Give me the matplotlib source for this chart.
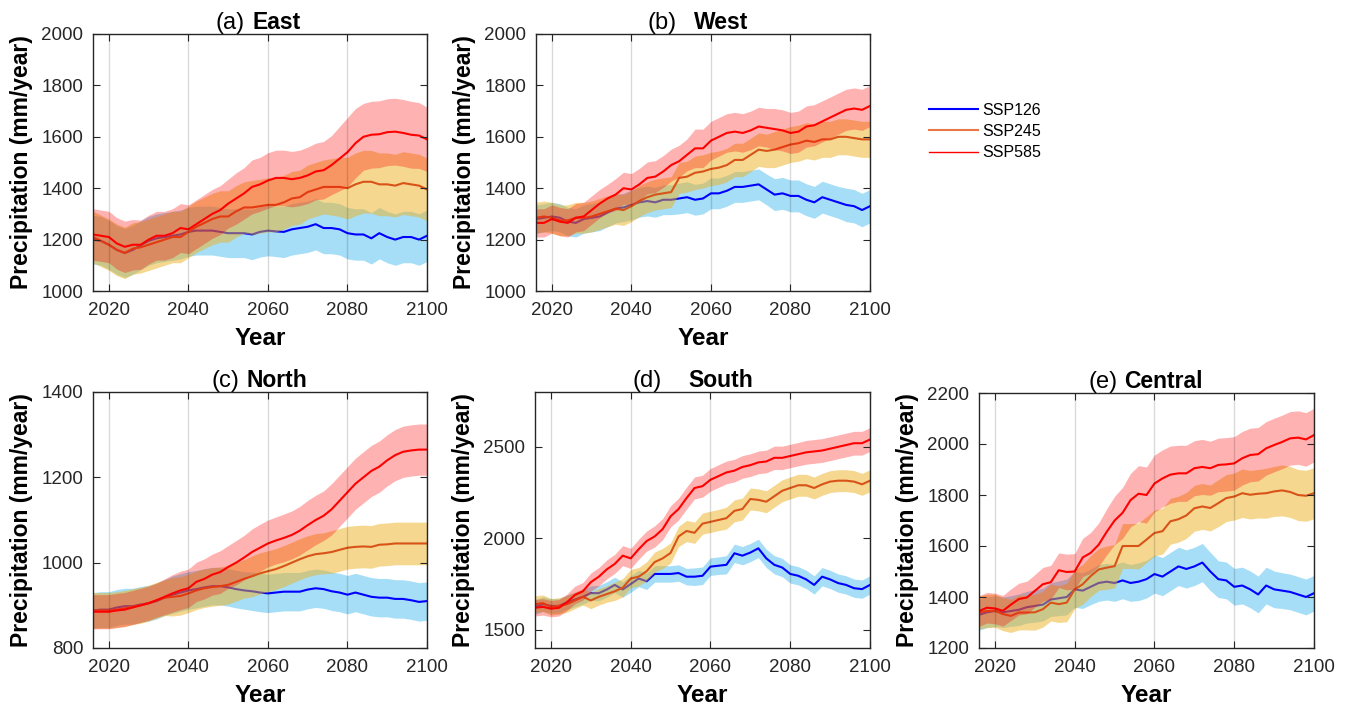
import numpy as np
import matplotlib
matplotlib.use('Agg')
import matplotlib.pyplot as plt

plt.rcParams.update({'font.family': ['Liberation Sans', 'DejaVu Sans'], 'font.size': 13.5})

years = np.arange(2016, 2101, 2)
scenarios = ['SSP126', 'SSP245', 'SSP585']

# ensemble mean (mm/year) and half-width of the shaded band, read every 2 years
east_126 = [1200, 1195, 1180, 1160, 1148, 1160, 1178, 1195, 1205, 1210,
            1215, 1220, 1230, 1235, 1235, 1235, 1230, 1225, 1225, 1225,
            1220, 1230, 1235, 1232, 1230, 1240, 1245, 1250, 1260, 1245,
            1245, 1240, 1225, 1220, 1220, 1205, 1225, 1210, 1200, 1210,
            1210, 1200, 1215]
east_126_sd = [95, 95, 95, 95, 95, 95, 95, 95, 95, 95,
               95, 95, 95, 95, 95, 95, 95, 95, 95, 95,
               98, 98, 98, 98, 100, 100, 100, 100, 100, 100,
               100, 100, 100, 100, 100, 100, 100, 100, 100, 100,
               100, 100, 100]
east_245 = [1210, 1195, 1180, 1160, 1148, 1165, 1170, 1180, 1190, 1200,
            1210, 1210, 1230, 1250, 1265, 1280, 1290, 1290, 1310, 1325,
            1325, 1330, 1335, 1335, 1345, 1360, 1365, 1385, 1395, 1405,
            1405, 1405, 1400, 1415, 1425, 1425, 1415, 1415, 1410, 1420,
            1415, 1410, 1395]
east_245_sd = [100, 100, 100, 100, 100, 100, 100, 100, 100, 100,
               100, 100, 100, 100, 100, 100, 100, 100, 100, 100,
               105, 105, 105, 105, 105, 105, 105, 105, 105, 105,
               110, 115, 120, 122, 122, 122, 122, 122, 122, 122,
               122, 122, 122]
east_585 = [1220, 1215, 1210, 1185, 1172, 1180, 1180, 1200, 1215, 1215,
            1225, 1245, 1240, 1260, 1280, 1300, 1315, 1340, 1360, 1380,
            1405, 1415, 1430, 1440, 1440, 1435, 1440, 1450, 1465, 1470,
            1490, 1515, 1540, 1575, 1600, 1608, 1610, 1618, 1620, 1615,
            1608, 1605, 1590]
east_585_sd = [100, 100, 100, 100, 100, 98, 96, 95, 95, 95,
               95, 95, 95, 95, 95, 95, 95, 95, 100, 100,
               105, 105, 108, 108, 108, 108, 108, 110, 110, 112,
               115, 125, 135, 135, 130, 130, 130, 130, 130, 130,
               130, 128, 125]

west_126 = [1280, 1285, 1290, 1285, 1270, 1265, 1280, 1285, 1290, 1305,
            1320, 1325, 1335, 1345, 1350, 1345, 1355, 1355, 1360, 1365,
            1355, 1360, 1380, 1380, 1390, 1405, 1405, 1410, 1415, 1395,
            1375, 1380, 1370, 1370, 1355, 1345, 1365, 1355, 1345, 1335,
            1330, 1315, 1330]
west_126_sd = [55, 55, 55, 55, 55, 55, 55, 55, 55, 55,
               55, 55, 58, 58, 58, 58, 58, 58, 60, 60,
               60, 60, 60, 60, 60, 60, 60, 60, 60, 60,
               62, 62, 62, 62, 62, 62, 62, 62, 62, 65,
               65, 65, 65]
west_245 = [1285, 1290, 1285, 1275, 1275, 1285, 1285, 1290, 1300, 1310,
            1320, 1315, 1330, 1350, 1365, 1375, 1380, 1385, 1440, 1445,
            1460, 1465, 1475, 1480, 1490, 1510, 1510, 1530, 1550, 1545,
            1550, 1560, 1570, 1575, 1585, 1580, 1590, 1590, 1600, 1600,
            1595, 1590, 1590]
west_245_sd = [60, 60, 60, 60, 60, 60, 60, 60, 60, 60,
               60, 60, 60, 60, 60, 60, 60, 60, 60, 60,
               65, 65, 65, 65, 65, 65, 65, 65, 65, 65,
               70, 70, 70, 70, 70, 70, 70, 70, 70, 70,
               70, 70, 70]
west_585 = [1265, 1265, 1280, 1270, 1265, 1285, 1290, 1315, 1340, 1360,
            1375, 1400, 1395, 1415, 1440, 1445, 1465, 1490, 1505, 1530,
            1555, 1555, 1585, 1600, 1615, 1620, 1615, 1625, 1640, 1635,
            1630, 1625, 1615, 1620, 1640, 1645, 1660, 1675, 1690, 1705,
            1710, 1705, 1720]
west_585_sd = [55, 55, 55, 55, 55, 55, 55, 55, 55, 55,
               62, 62, 62, 62, 62, 62, 62, 62, 62, 62,
               75, 75, 75, 75, 75, 75, 75, 75, 75, 75,
               80, 80, 80, 80, 80, 80, 80, 80, 80, 80,
               80, 80, 80]

north_126 = [888, 890, 890, 895, 898, 898, 902, 905, 910, 918,
             925, 930, 935, 938, 942, 945, 945, 942, 938, 935,
             933, 930, 928, 930, 932, 932, 932, 937, 940, 938,
             933, 930, 925, 930, 925, 920, 918, 918, 915, 915,
             912, 908, 910]
north_126_sd = [42, 42, 42, 42, 42, 42, 42, 42, 42, 42,
                44, 44, 44, 44, 44, 44, 44, 44, 44, 44,
                45, 45, 45, 45, 45, 45, 45, 45, 45, 45,
                45, 45, 45, 45, 45, 45, 45, 45, 45, 45,
                45, 45, 45]
north_245 = [888, 888, 888, 890, 893, 897, 900, 905, 912, 918,
             920, 922, 928, 935, 940, 943, 945, 948, 955, 962,
             968, 975, 980, 985, 992, 1000, 1008, 1015, 1020, 1022,
             1025, 1030, 1035, 1037, 1038, 1037, 1042, 1043, 1045, 1045,
             1045, 1045, 1045]
north_245_sd = [42, 42, 42, 42, 42, 42, 42, 42, 42, 42,
                45, 45, 45, 45, 45, 45, 45, 45, 45, 45,
                48, 48, 48, 48, 48, 48, 48, 48, 48, 48,
                50, 50, 50, 50, 50, 50, 50, 50, 50, 50,
                50, 50, 50]
north_585 = [885, 885, 885, 888, 890, 895, 900, 905, 912, 920,
             928, 935, 940, 955, 962, 972, 978, 990, 1000, 1012,
             1025, 1035, 1045, 1052, 1058, 1065, 1075, 1088, 1100, 1110,
             1125, 1145, 1165, 1185, 1200, 1215, 1225, 1240, 1252, 1260,
             1263, 1265, 1265]
north_585_sd = [40, 40, 40, 40, 40, 40, 40, 40, 40, 42,
                44, 45, 45, 46, 47, 48, 50, 50, 52, 52,
                54, 55, 55, 55, 56, 56, 57, 58, 58, 58,
                60, 60, 60, 60, 60, 60, 60, 60, 60, 60,
                60, 60, 60]

south_126 = [1625, 1640, 1630, 1630, 1650, 1665, 1680, 1700, 1700, 1720,
             1745, 1720, 1750, 1780, 1765, 1805, 1805, 1805, 1810, 1790,
             1790, 1795, 1845, 1850, 1855, 1918, 1905, 1922, 1945, 1890,
             1855, 1840, 1805, 1795, 1775, 1745, 1790, 1775, 1755, 1745,
             1727, 1722, 1745]
south_126_sd = [40, 40, 40, 40, 40, 40, 40, 40, 42, 42,
                42, 42, 45, 45, 45, 45, 45, 45, 45, 45,
                48, 48, 48, 48, 50, 50, 50, 50, 50, 50,
                50, 50, 50, 50, 50, 50, 50, 50, 50, 50,
                50, 50, 50]
south_245 = [1640, 1645, 1625, 1630, 1640, 1660, 1680, 1660, 1680, 1695,
             1710, 1730, 1780, 1790, 1820, 1870, 1890, 1920, 2010, 2040,
             2030, 2080, 2090, 2100, 2110, 2150, 2160, 2215, 2210, 2200,
             2230, 2260, 2275, 2290, 2290, 2275, 2295, 2310, 2315, 2315,
             2310, 2295, 2315]
south_245_sd = [45, 45, 45, 45, 45, 45, 45, 45, 45, 45,
                50, 50, 50, 50, 52, 55, 55, 55, 55, 58,
                58, 58, 58, 58, 60, 60, 60, 60, 60, 60,
                60, 60, 60, 60, 60, 60, 60, 60, 60, 60,
                60, 60, 60]
south_585 = [1620, 1625, 1615, 1620, 1650, 1690, 1710, 1760, 1790, 1830,
             1860, 1905, 1890, 1940, 1985, 2010, 2050, 2120, 2160, 2220,
             2275, 2285, 2320, 2340, 2360, 2370, 2390, 2400, 2415, 2420,
             2440, 2440, 2450, 2460, 2470, 2475, 2480, 2490, 2500, 2510,
             2520, 2520, 2540]
south_585_sd = [45, 45, 45, 45, 45, 48, 48, 50, 50, 52,
                52, 55, 55, 55, 55, 58, 58, 58, 60, 60,
                60, 60, 62, 62, 62, 62, 62, 62, 62, 62,
                64, 64, 64, 64, 65, 65, 65, 65, 65, 65,
                65, 65, 65]

central_126 = [1330, 1340, 1345, 1340, 1345, 1350, 1360, 1365, 1370, 1390,
               1395, 1400, 1430, 1425, 1440, 1455, 1460, 1455, 1465, 1455,
               1460, 1470, 1490, 1480, 1500, 1520, 1510, 1520, 1535, 1500,
               1470, 1465, 1440, 1445, 1430, 1410, 1445, 1430, 1425, 1420,
               1410, 1400, 1415]
central_126_sd = [60, 60, 60, 60, 60, 62, 62, 64, 64, 66,
                  68, 70, 70, 70, 70, 72, 72, 72, 72, 72,
                  74, 74, 75, 75, 75, 75, 75, 75, 75, 75,
                  72, 72, 72, 72, 72, 72, 72, 72, 70, 70,
                  70, 70, 70]
central_245 = [1340, 1345, 1346, 1333, 1326, 1339, 1339, 1340, 1352, 1378,
               1372, 1378, 1430, 1450, 1482, 1508, 1515, 1521, 1600, 1600,
               1600, 1625, 1651, 1658, 1697, 1705, 1720, 1748, 1755, 1749,
               1768, 1788, 1794, 1807, 1801, 1805, 1807, 1814, 1818, 1812,
               1800, 1797, 1807]
central_245_sd = [65, 65, 65, 65, 65, 68, 68, 70, 70, 72,
                  72, 75, 75, 78, 80, 82, 85, 85, 88, 88,
                  90, 90, 90, 90, 90, 90, 90, 90, 90, 90,
                  92, 92, 92, 95, 95, 95, 98, 98, 100, 100,
                  100, 100, 100]
central_585 = [1345, 1358, 1355, 1346, 1370, 1392, 1398, 1424, 1450, 1458,
               1505, 1498, 1500, 1555, 1573, 1605, 1655, 1700, 1730, 1780,
               1805, 1800, 1845, 1865, 1880, 1885, 1885, 1905, 1910, 1905,
               1918, 1920, 1924, 1944, 1957, 1960, 1983, 1996, 2008, 2022,
               2025, 2018, 2035]
central_585_sd = [60, 60, 60, 60, 62, 62, 64, 64, 66, 66,
                  68, 70, 70, 75, 80, 85, 90, 95, 100, 105,
                  110, 110, 112, 112, 112, 110, 110, 108, 108, 106,
                  105, 105, 105, 105, 105, 105, 105, 105, 105, 105,
                  105, 105, 105]

fill_colors = ['#4DBEEE', '#EDB120', '#FF0000']
fill_alpha = [0.5, 0.5, 0.3]
line_colors = ['#0000FF', '#D95319', '#FF0000']

# tag, name, data, ylim, yticks, axes box in px (x0, y0, x1, y1), title anchors
panels = [
    ('(a)', 'East', [east_126, east_126_sd, east_245, east_245_sd, east_585, east_585_sd],
     (1000, 2000), [1000, 1200, 1400, 1600, 1800, 2000], (93, 34, 427, 291), 0.455, 0.479),
    ('(b)', 'West', [west_126, west_126_sd, west_245, west_245_sd, west_585, west_585_sd],
     (1000, 2000), [1000, 1200, 1400, 1600, 1800, 2000], (536, 34, 870, 291), 0.421, 0.473),
    ('(c)', 'North', [north_126, north_126_sd, north_245, north_245_sd, north_585, north_585_sd],
     (800, 1400), [800, 1000, 1200, 1400], (93, 392, 427, 648), 0.437, 0.461),
    ('(d)', 'South', [south_126, south_126_sd, south_245, south_245_sd, south_585, south_585_sd],
     (1400, 2800), [1500, 2000, 2500], (535, 392, 870, 648), 0.379, 0.457),
    ('(e)', 'Central', [central_126, central_126_sd, central_245, central_245_sd, central_585, central_585_sd],
     (1200, 2200), [1200, 1400, 1600, 1800, 2000, 2200], (979, 393, 1314, 648), 0.415, 0.433),
]

W, H = 1350, 712
fig = plt.figure(figsize=(W / 100, H / 100), dpi=100)

handles = []
for tag, name, data, ylim, yticks, box, xt1, xt2 in panels:
    x0, y0, x1, y1 = box
    ax = fig.add_axes([x0 / W, 1 - y1 / H, (x1 - x0) / W, (y1 - y0) / H])
    lines = []
    # each scenario: band then line, later scenarios drawn over earlier ones
    for k in range(3):
        mean = np.array(data[2 * k])
        sd = np.array(data[2 * k + 1])
        ax.fill_between(years, mean - sd, mean + sd, color=fill_colors[k],
                        alpha=fill_alpha[k], lw=0, zorder=2 * k + 1)
        ln, = ax.plot(years, mean, color=line_colors[k], lw=1.5, label=scenarios[k],
                      zorder=2 * k + 2)
        lines.append(ln)
    if not handles:
        handles = lines

    ax.set_xlim(2016, 2100)
    ax.set_ylim(*ylim)
    ax.set_xticks([2020, 2040, 2060, 2080, 2100])
    ax.set_yticks(yticks)
    ax.grid(axis='x', color='k', alpha=0.15, lw=1)
    ax.xaxis.set_zorder(10)
    ax.yaxis.set_zorder(10)
    ax.tick_params(direction='in', top=True, right=True, length=5, width=0.8,
                   colors='#262626', labelsize=13.5)
    ax.tick_params(axis='x', pad=8)
    ax.tick_params(axis='y', pad=7)
    for s in ax.spines.values():
        s.set_color('#262626')
        s.set_linewidth(1.0)
        s.set_zorder(11)
    ax.set_xlabel('Year', fontsize=17.5, fontweight='bold', labelpad=6)
    ax.set_ylabel('Precipitation (mm/year)', fontsize=16.5, fontweight='bold', labelpad=6)

    ax.text(xt1, 1.02, tag, transform=ax.transAxes, ha='right', va='baseline', fontsize=17)
    ax.text(xt2, 1.02, name, transform=ax.transAxes, ha='left', va='baseline',
            fontsize=16.5, fontweight='bold')

leg = fig.legend(handles, scenarios, loc='upper left', bbox_to_anchor=(929 / W, 1 - 103 / H),
                 frameon=False, fontsize=11.5, handlelength=3.06, handletextpad=0.25,
                 labelspacing=0.38, borderpad=0, borderaxespad=0)
leg.get_lines()[1].set_color('#E8784A')
leg.get_lines()[2].set_linewidth(1.0)

fig.savefig('out.png', dpi=100)
